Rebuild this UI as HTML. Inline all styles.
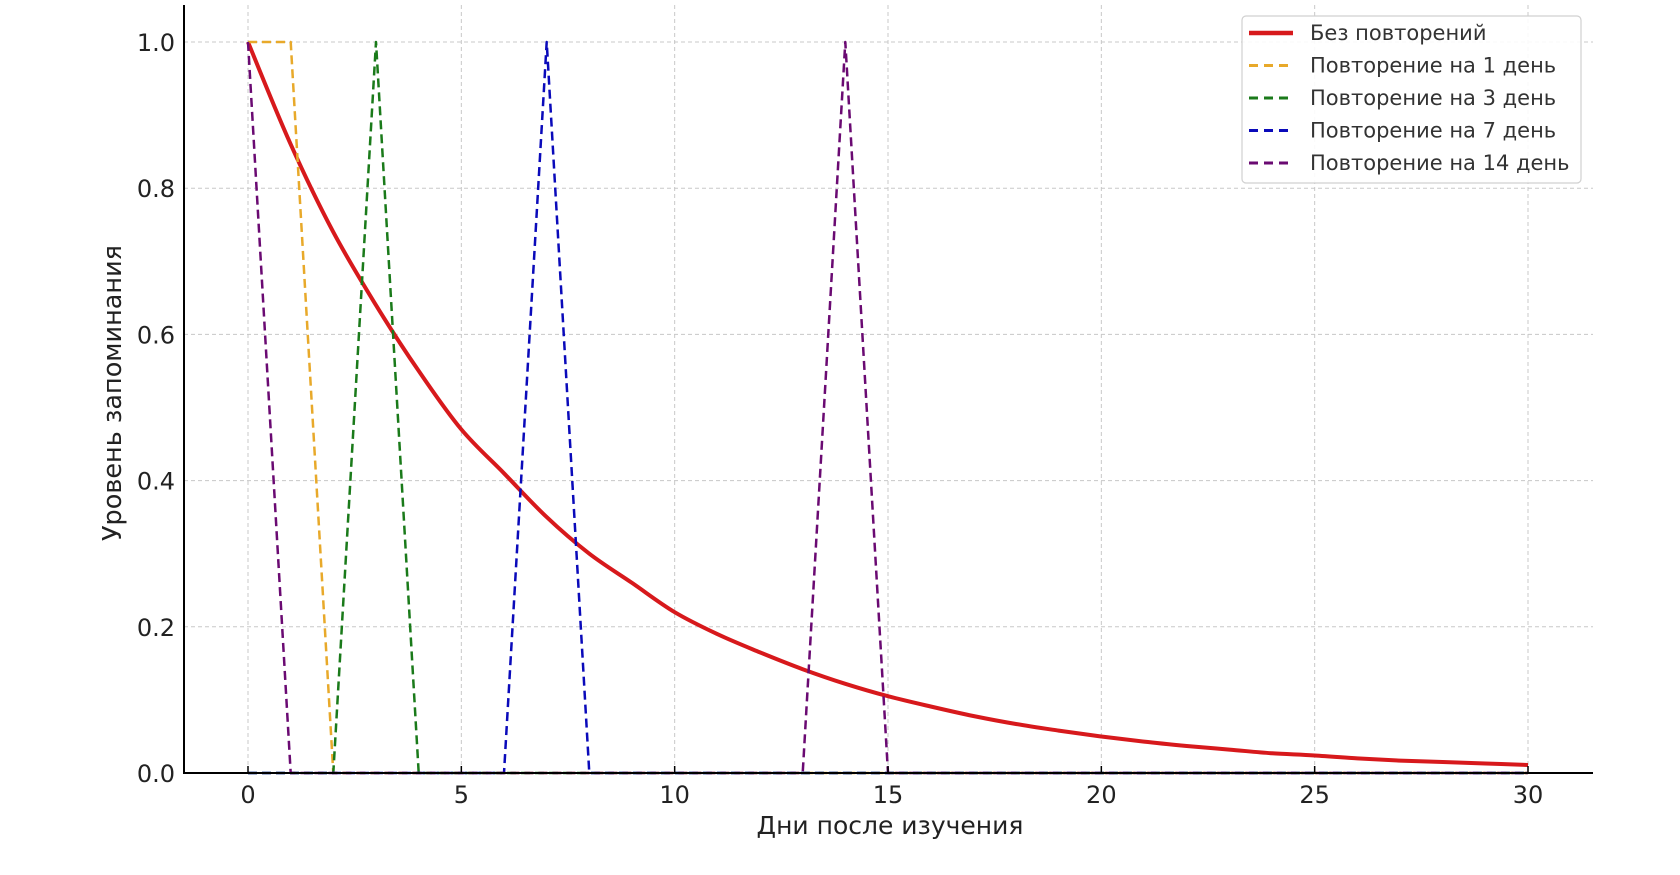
<!DOCTYPE html>
<html><head><meta charset="utf-8"><style>
html,body{margin:0;padding:0;background:#fff;}
svg{display:block;font-family:"DejaVu Sans","Liberation Sans",sans-serif;}
</style></head><body>
<svg id="chart" width="1680" height="875" viewBox="0 0 1680 875" xmlns="http://www.w3.org/2000/svg">
<g id="grid"></g>
<g id="series"></g>
<g id="axes"></g>
<g id="legend"></g>
</svg>
<script>
const days = [0,1,2,3,4,5,6,7,8,9,10,11,12,13,14,15,16,17,18,19,20,21,22,23,24,25,26,27,28,29,30];
const noReview = [1.0,0.86,0.74,0.64,0.55,0.47,0.41,0.35,0.30,0.26,0.22,0.19,0.165,0.142,0.122,0.105,0.091,0.078,0.067,0.058,0.050,0.043,0.037,0.032,0.027,0.024,0.020,0.017,0.015,0.013,0.011];
const review1 = [1,1,0,0,0,0,0,0,0,0,0,0,0,0,0,0,0,0,0,0,0,0,0,0,0,0,0,0,0,0,0];
const review3 = [0,0,0,1,0,0,0,0,0,0,0,0,0,0,0,0,0,0,0,0,0,0,0,0,0,0,0,0,0,0,0];
const review7 = [0,0,0,0,0,0,0,1,0,0,0,0,0,0,0,0,0,0,0,0,0,0,0,0,0,0,0,0,0,0,0];
const review14 = [1,0,0,0,0,0,0,0,0,0,0,0,0,0,1,0,0,0,0,0,0,0,0,0,0,0,0,0,0,0,0];
const xTicks = [0,5,10,15,20,25,30];
const yTicks = [0.0,0.2,0.4,0.6,0.8,1.0];
const seriesNames = ["Без повторений","Повторение на 1 день","Повторение на 3 день","Повторение на 7 день","Повторение на 14 день"];

const NS="http://www.w3.org/2000/svg";
const X=v=>248+v*(1528-248)/30;
const Y=v=>773-v*(773-42);
function mk(tag,attrs,parent){const e=document.createElementNS(NS,tag);for(const k in attrs)e.setAttribute(k,attrs[k]);parent.appendChild(e);return e;}
const grid=document.getElementById('grid'),ser=document.getElementById('series'),ax=document.getElementById('axes'),lg=document.getElementById('legend');

xTicks.forEach(t=>{
  const l=mk('line',{x1:X(t),x2:X(t),y1:5,y2:773,stroke:'#c8c8c8','stroke-width':1,'stroke-dasharray':'4,3'},grid);
  
  
  const tk=mk('line',{x1:X(t),x2:X(t),y1:773,y2:766,stroke:'#000','stroke-width':1.5},ax);
  
  
  const tx=mk('text',{x:X(t),y:803,'text-anchor':'middle','font-size':24,fill:'#222'},ax);
  tx.textContent=t;
  
  
});
yTicks.forEach(t=>{
  const l=mk('line',{x1:184,x2:1593,y1:Y(t),y2:Y(t),stroke:'#c8c8c8','stroke-width':1,'stroke-dasharray':'4,3'},grid);
  
  
  const tx=mk('text',{x:175,y:Y(t)+9,'text-anchor':'end','font-size':24,fill:'#222'},ax);
  tx.textContent=t.toFixed(1);
  
  
});

function smoothPath(xs,ys){
  const P=xs.map((x,i)=>[X(x),Y(ys[i])]);
  let d='M'+P[0][0].toFixed(1)+','+P[0][1].toFixed(1);
  for(let i=0;i<P.length-1;i++){
    const p0=P[Math.max(0,i-1)],p1=P[i],p2=P[i+1],p3=P[Math.min(P.length-1,i+2)];
    const c1=[p1[0]+(p2[0]-p0[0])/6,p1[1]+(p2[1]-p0[1])/6];
    const c2=[p2[0]-(p3[0]-p1[0])/6,p2[1]-(p3[1]-p1[1])/6];
    d+=' C'+c1.map(v=>v.toFixed(1)).join(',')+' '+c2.map(v=>v.toFixed(1)).join(',')+' '+p2.map(v=>v.toFixed(1)).join(',');
  }
  return d;
}

const defs=[[noReview,'#d7191c',4,null],[review1,'#e8a92a',2.5,'9,5'],[review3,'#1a7a1a',2.5,'9,5'],[review7,'#0a0aba',2.5,'9,5'],[review14,'#6a0a72',2.5,'9,5']];
const snames=['no-review-line','review-day1-line','review-day3-line','review-day7-line','review-day14-line'];
defs.forEach((d,i)=>{
  let p;
  if(i===0){
    p=mk('path',{d:smoothPath(days,d[0]),fill:'none',stroke:d[1],'stroke-width':d[2],'stroke-linejoin':'round'},ser);
  } else {
    const pts=days.map((x,j)=>X(x).toFixed(1)+','+Y(d[0][j]).toFixed(1)).join(' ');
    p=mk('polyline',{points:pts,fill:'none',stroke:d[1],'stroke-width':d[2],'stroke-linejoin':'round','stroke-dasharray':d[3]},ser);
  }
  
  
});

const sl=mk('line',{x1:184,x2:184,y1:5,y2:774,stroke:'#000','stroke-width':2},ax);


const sb=mk('line',{x1:183,x2:1593,y1:773,y2:773,stroke:'#000','stroke-width':2},ax);


const xt=mk('text',{x:890,y:834,'text-anchor':'middle','font-size':25,fill:'#222'},ax);
xt.textContent='Дни после изучения';


const yt=mk('text',{x:0,y:0,transform:'translate(121,393) rotate(-90)','text-anchor':'middle','font-size':25.5,fill:'#222'},ax);
yt.textContent='Уровень запоминания';



const box=mk('rect',{x:1242,y:16,width:339,height:167,rx:4,fill:'#fff','fill-opacity':0.9,stroke:'#d0d0d0','stroke-width':1.2},lg);


defs.forEach((d,i)=>{
  const y=33+i*32.5;
  const a={x1:1249,x2:1293,y1:y,y2:y,stroke:d[1],'stroke-width':d[2]+0.5};
  if(d[3])a['stroke-dasharray']='9,6';
  const l=mk('line',a,lg);
  
  
  const t=mk('text',{x:1310,y:y+7,'font-size':21,fill:'#333'},lg);
  t.textContent=seriesNames[i];
  
  
});
</script>
</body></html>
